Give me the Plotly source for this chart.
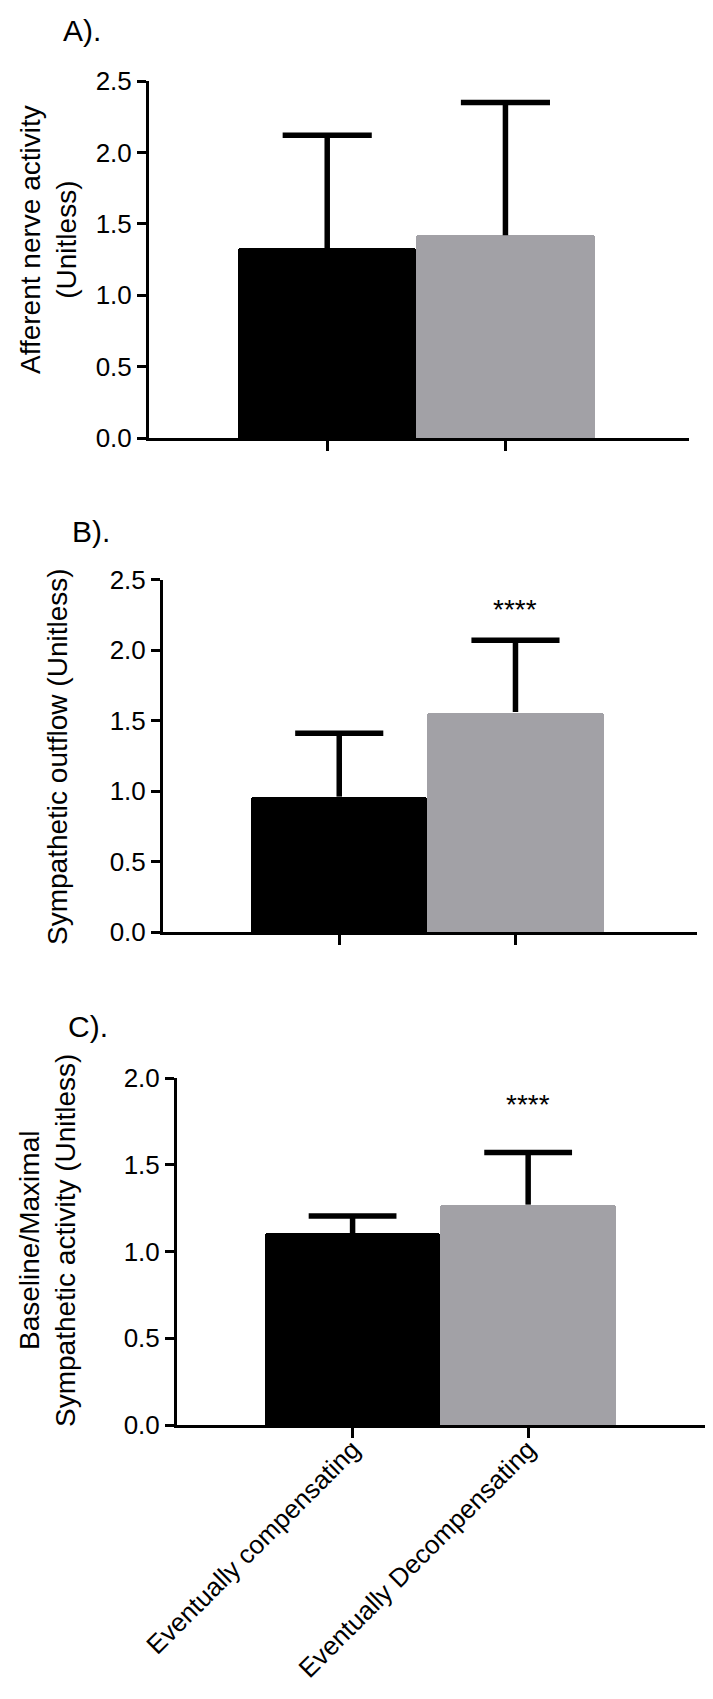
import plotly.graph_objects as go

# ---- data ----
categories = ["Eventually compensating", "Eventually Decompensating"]
afferent_mean = [1.33, 1.42]
afferent_sd = [0.79, 0.93]
outflow_mean = [0.96, 1.56]
outflow_sd = [0.45, 0.51]
ratio_mean = [1.105, 1.27]
ratio_sd = [0.10, 0.30]
star_text = ["", "****"]
outflow_star_y = [None, 2.29]
ratio_star_y = [None, 1.85]
yticks_ab = [0.0, 0.5, 1.0, 1.5, 2.0, 2.5]
yticks_c = [0.0, 0.5, 1.0, 1.5, 2.0]
bar_colors = ["#000000", "#a2a1a6"]

W, H = 713, 1699
FONT = "Liberation Sans, Arial, Helvetica, sans-serif"

fig = go.Figure()

panels = [
    # (means, sds, xdom px, ydom px (top,bottom), yrange, yticks)
    (afferent_mean, afferent_sd, (141, 681), (73, 430), 2.5, yticks_ab),
    (outflow_mean, outflow_sd, (155, 689), (571.5, 924), 2.5, yticks_ab),
    (ratio_mean, ratio_sd, (169, 701), (1070, 1417), 2.0, yticks_c),
]

xpos = list(range(len(categories)))
cap_half = 0.25

for i, (means, sds, xd, yd, ymax, yt) in enumerate(panels):
    n = i + 1
    xa = "x" if n == 1 else f"x{n}"
    ya = "y" if n == 1 else f"y{n}"
    fig.add_trace(go.Bar(
        x=xpos, y=means, width=1.0,
        marker=dict(color=bar_colors, line=dict(width=0), cornerradius=3),
        xaxis=xa, yaxis=ya, showlegend=False, hoverinfo="skip",
    ))
    # one-sided (upper) error bars drawn from the data
    ex, ey = [], []
    for xp, m, s in zip(xpos, means, sds):
        ex += [xp, xp, None, xp - cap_half, xp + cap_half, None]
        ey += [m, m + s, None, m + s, m + s, None]
    fig.add_trace(go.Scatter(
        x=ex, y=ey, mode="lines", line=dict(color="black", width=5.5),
        xaxis=xa, yaxis=ya, showlegend=False, hoverinfo="skip",
    ))
    xkey = "xaxis" if n == 1 else f"xaxis{n}"
    ykey = "yaxis" if n == 1 else f"yaxis{n}"
    fig.update_layout({
        xkey: dict(
            domain=[xd[0] / W, xd[1] / W], anchor=ya, automargin=False,
            range=[-1, 2.03], tickmode="array", tickvals=xpos,
            ticktext=categories if n == 3 else ["", ""],
            showticklabels=(n == 3), tickangle=-45, ticklabelstandoff=-14,
            ticks="outside", ticklen=10, tickwidth=3, tickcolor="black",
            showline=True, linewidth=3, linecolor="black",
            showgrid=False, zeroline=False,
            tickfont=dict(family=FONT, size=26, color="black"),
        ),
        ykey: dict(
            domain=[1 - yd[1] / H, 1 - yd[0] / H], anchor=xa, automargin=False,
            range=[0, ymax], tickmode="array", tickvals=yt,
            tickformat=".1f",
            ticks="outside", ticklen=9, tickwidth=3, tickcolor="black",
            showline=True, linewidth=3, linecolor="black",
            showgrid=False, zeroline=False,
            tickfont=dict(family=FONT, size=26, color="black"),
        ),
    })

# significance stars
for n, sy in ((2, outflow_star_y), (3, ratio_star_y)):
    for xp, t, yv in zip(xpos, star_text, sy):
        if t:
            fig.add_annotation(x=xp, y=yv, xref=f"x{n}", yref=f"y{n}", text=t,
                               showarrow=False, yanchor="middle",
                               font=dict(family=FONT, size=28, color="black"))

# y-axis titles
titles = [
    ("Afferent nerve activity<br>(Unitless)", 40, 232),
    ("Sympathetic outflow (Unitless)", 49, 749),
    ("Baseline/Maximal<br>Sympathetic activity (Unitless)", 39, 1233),
]
for txt, xc, yc in titles:
    fig.add_annotation(x=xc / W, y=1 - yc / H, xref="paper", yref="paper",
                       text=txt, textangle=-90, showarrow=False,
                       xanchor="center", yanchor="middle",
                       font=dict(family=FONT, size=28, color="black"))

# panel labels
for txt, xl, yc in (("A).", 53, 23), ("B).", 62, 523), ("C).", 58, 1018)):
    fig.add_annotation(x=xl / W, y=1 - yc / H, xref="paper", yref="paper",
                       text=txt, showarrow=False, xanchor="left", yanchor="middle",
                       font=dict(family=FONT, size=30, color="black"))

fig.update_layout(
    width=W, height=H, margin=dict(l=0, r=0, t=0, b=0, pad=0, autoexpand=False),
    paper_bgcolor="white", plot_bgcolor="white", bargap=0,
)

fig.write_html("out.html")
